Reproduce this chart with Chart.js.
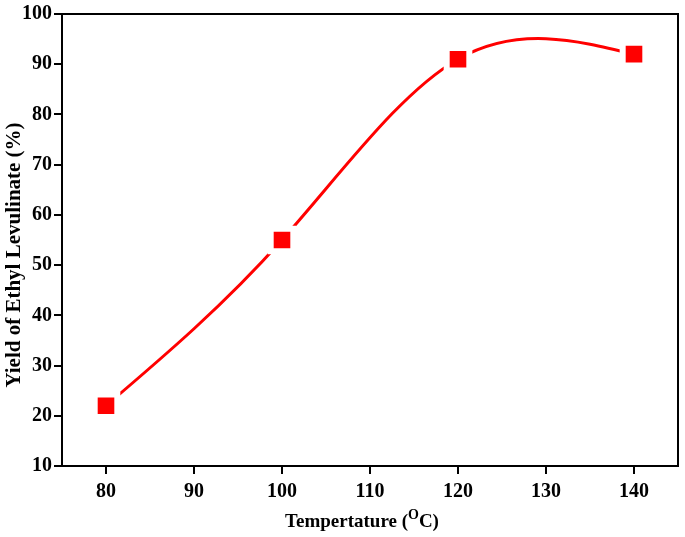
<!DOCTYPE html>
<html>
<head>
<meta charset="utf-8">
<script src="https://cdn.jsdelivr.net/npm/chart.js@4"></script>
<style>
  html, body { margin: 0; padding: 0; background: #fff; }
  #wrap { width: 685px; height: 537px; }
</style>
</head>
<body>
<div id="wrap"><canvas id="myChart" width="685" height="537"></canvas></div>
<script>
const temps = [80, 100, 120, 140];
const yields = [22, 55, 91, 92];
const xTicks = [80, 90, 100, 110, 120, 130, 140];
const yTicks = [10, 20, 30, 40, 50, 60, 70, 80, 90, 100];
const yTitle = "Yield of Ethyl Levulinate (%)";

const FONT = "'Liberation Serif', 'Times New Roman', serif";

// slopes of a natural cubic spline through the points (like Origin's spline line)
function splineSlopes(xs, ys) {
  const n = xs.length;
  const h = [];
  for (let i = 0; i < n - 1; i++) h.push(xs[i + 1] - xs[i]);
  const M = new Array(n).fill(0);
  if (n > 2) {
    const a = [], b = [], c = [], d = [];
    for (let i = 1; i < n - 1; i++) {
      a.push(h[i - 1]);
      b.push(2 * (h[i - 1] + h[i]));
      c.push(h[i]);
      d.push(6 * ((ys[i + 1] - ys[i]) / h[i] - (ys[i] - ys[i - 1]) / h[i - 1]));
    }
    const m = b.length;
    for (let i = 1; i < m; i++) {
      const w = a[i] / b[i - 1];
      b[i] -= w * c[i - 1];
      d[i] -= w * d[i - 1];
    }
    const sol = new Array(m);
    sol[m - 1] = d[m - 1] / b[m - 1];
    for (let i = m - 2; i >= 0; i--) sol[i] = (d[i] - c[i] * sol[i + 1]) / b[i];
    for (let i = 0; i < m; i++) M[i + 1] = sol[i];
  }
  const s = [];
  for (let i = 0; i < n - 1; i++) s.push((ys[i + 1] - ys[i]) / h[i] - h[i] * (2 * M[i] + M[i + 1]) / 6);
  s.push((ys[n - 1] - ys[n - 2]) / h[n - 2] + h[n - 2] * (M[n - 2] + 2 * M[n - 1]) / 6);
  return s;
}

const naturalSpline = {
  id: "naturalSpline",
  beforeDatasetsDraw(chart) {
    chart.getSortedVisibleDatasetMetas().forEach(meta => {
      const line = meta.dataset;
      const pts = meta.data;
      if (!line || pts.length < 3) return;
      line.updateControlPoints(chart.chartArea, "x");
      const xs = pts.map(p => p.x), ys = pts.map(p => p.y);
      const s = splineSlopes(xs, ys);
      pts.forEach((p, i) => {
        const hp = i > 0 ? (xs[i] - xs[i - 1]) / 3 : 0;
        const hn = i < pts.length - 1 ? (xs[i + 1] - xs[i]) / 3 : 0;
        p.cp1x = xs[i] - hp; p.cp1y = ys[i] - s[i] * hp;
        p.cp2x = xs[i] + hn; p.cp2y = ys[i] + s[i] * hn;
      });
    });
  }
};

// frame on top/right, the y title and the x title with a superscript
const extras = {
  id: "extras",
  afterDraw(chart) {
    const ctx = chart.ctx;
    const a = chart.chartArea;
    ctx.save();
    ctx.strokeStyle = "#000";
    ctx.lineWidth = 2;
    ctx.strokeRect(a.left, a.top, a.right - a.left, a.bottom - a.top);

    ctx.fillStyle = "#000";

    // y title
    ctx.save();
    ctx.translate(20, 255);
    ctx.rotate(-Math.PI / 2);
    ctx.font = "bold 21px " + FONT;
    ctx.textAlign = "center";
    ctx.textBaseline = "alphabetic";
    ctx.fillText(yTitle, 0, 0);
    ctx.restore();

    // x title
    ctx.textBaseline = "alphabetic";
    const big = "bold 19px " + FONT;
    const small = "bold 14px " + FONT;
    const p1 = "Tempertature (", p2 = "O", p3 = "C)";
    ctx.font = big;
    const w1 = ctx.measureText(p1).width, w3 = ctx.measureText(p3).width;
    ctx.font = small;
    const w2 = ctx.measureText(p2).width;
    let x = 362 - (w1 + w2 + w3) / 2;
    const y = 527;
    ctx.font = big; ctx.fillText(p1, x, y); x += w1;
    ctx.font = small; ctx.fillText(p2, x, y - 8); x += w2;
    ctx.font = big; ctx.fillText(p3, x, y);
    ctx.restore();
  }
};

new Chart("myChart", {
  type: "line",
  data: {
    datasets: [{
      data: temps.map((t, i) => ({ x: t, y: yields[i] })),
      borderColor: "#ff0000",
      borderWidth: 3,
      tension: 0.4,
      pointStyle: "rect",
      pointRadius: 16,
      pointHoverRadius: 16,
      pointBackgroundColor: "#ff0000",
      pointBorderColor: "#ffffff",
      pointBorderWidth: 6
    }]
  },
  options: {
    responsive: false,
    animation: false,
    layout: { autoPadding: false, padding: { top: 11, right: 7, left: 0, bottom: 0 } },
    plugins: { legend: { display: false }, tooltip: { enabled: false } },
    scales: {
      x: {
        type: "linear",
        min: 75,
        max: 145,
        afterBuildTicks: s => { s.ticks = xTicks.map(v => ({ value: v })); },
        afterFit: s => { s.height = 71; },
        border: { display: true, color: "#000", width: 2 },
        grid: { drawOnChartArea: false, drawTicks: true, tickLength: 8, color: "#000", lineWidth: 2 },
        ticks: { color: "#000", padding: 6, maxRotation: 0, font: { family: FONT, size: 20, weight: "bold" } }
      },
      y: {
        min: 10,
        max: 100,
        afterBuildTicks: s => { s.ticks = yTicks.map(v => ({ value: v })); },
        afterFit: s => { s.width = 62; },
        border: { display: true, color: "#000", width: 2 },
        grid: { drawOnChartArea: false, drawTicks: true, tickLength: 8, color: "#000", lineWidth: 2 },
        ticks: { color: "#000", padding: 2, font: { family: FONT, size: 20, weight: "bold" } }
      }
    }
  },
  plugins: [naturalSpline, extras]
});
</script>
</body>
</html>
